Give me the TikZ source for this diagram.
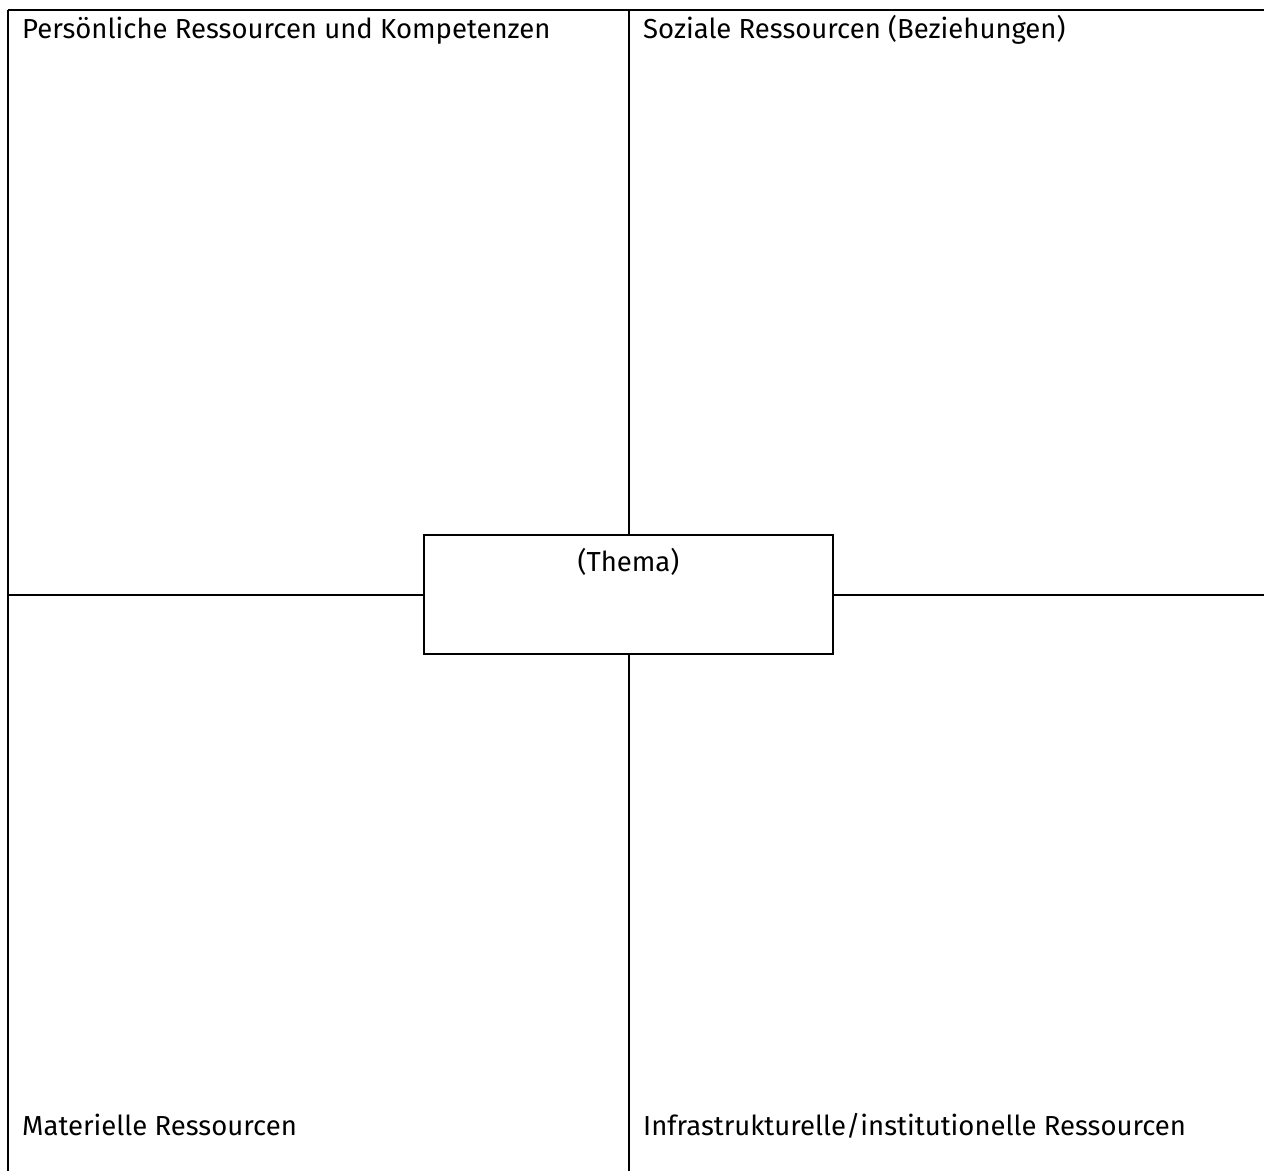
\documentclass[tikz,border=0pt]{standalone}
\usepackage{fontspec}
\setmainfont{Fira Sans}
\begin{document}
\begin{tikzpicture}[x=1pt,y=-1pt,
  rule/.style={line width=2pt},
  topic/.style={draw, line width=2pt, minimum width=409pt, minimum height=119pt, inner sep=0pt},
  head/.style={anchor=base west, inner sep=0pt, font=\fontsize{27.5}{33}\selectfont}]
\useasboundingbox (0,0) rectangle (1264,1171);
\coordinate(tl) at (8,10);
\coordinate(tr) at (1264,10);
\coordinate(bl) at (8,1171);
\node(thema) at (628.5,594.5) [topic]{};
\node(thematext) at ([yshift=-37pt]thema.north) [head, anchor=base]{(Thema)};
\node(pers) at (22,38) [head]{Persönliche Ressourcen und Kompetenzen};
\node(soz) at (643,38) [head]{Soziale Ressourcen (Beziehungen)};
\node(mat) at (22,1135) [head]{Materielle Ressourcen};
\node(inf) at (643,1135) [head]{Infrastrukturelle/institutionelle Ressourcen};
\draw[rule] (tl) -- (tr);
\draw[rule] (tl) -- (bl);
\draw[rule] (thema.north|-tl) -- (thema.north);
\draw[rule] (thema.south) -- (thema.south|-bl);
\draw[rule] (thema.west-|tl) -- (thema.west);
\draw[rule] (thema.east) -- (thema.east-|tr);
\end{tikzpicture}
\end{document}
